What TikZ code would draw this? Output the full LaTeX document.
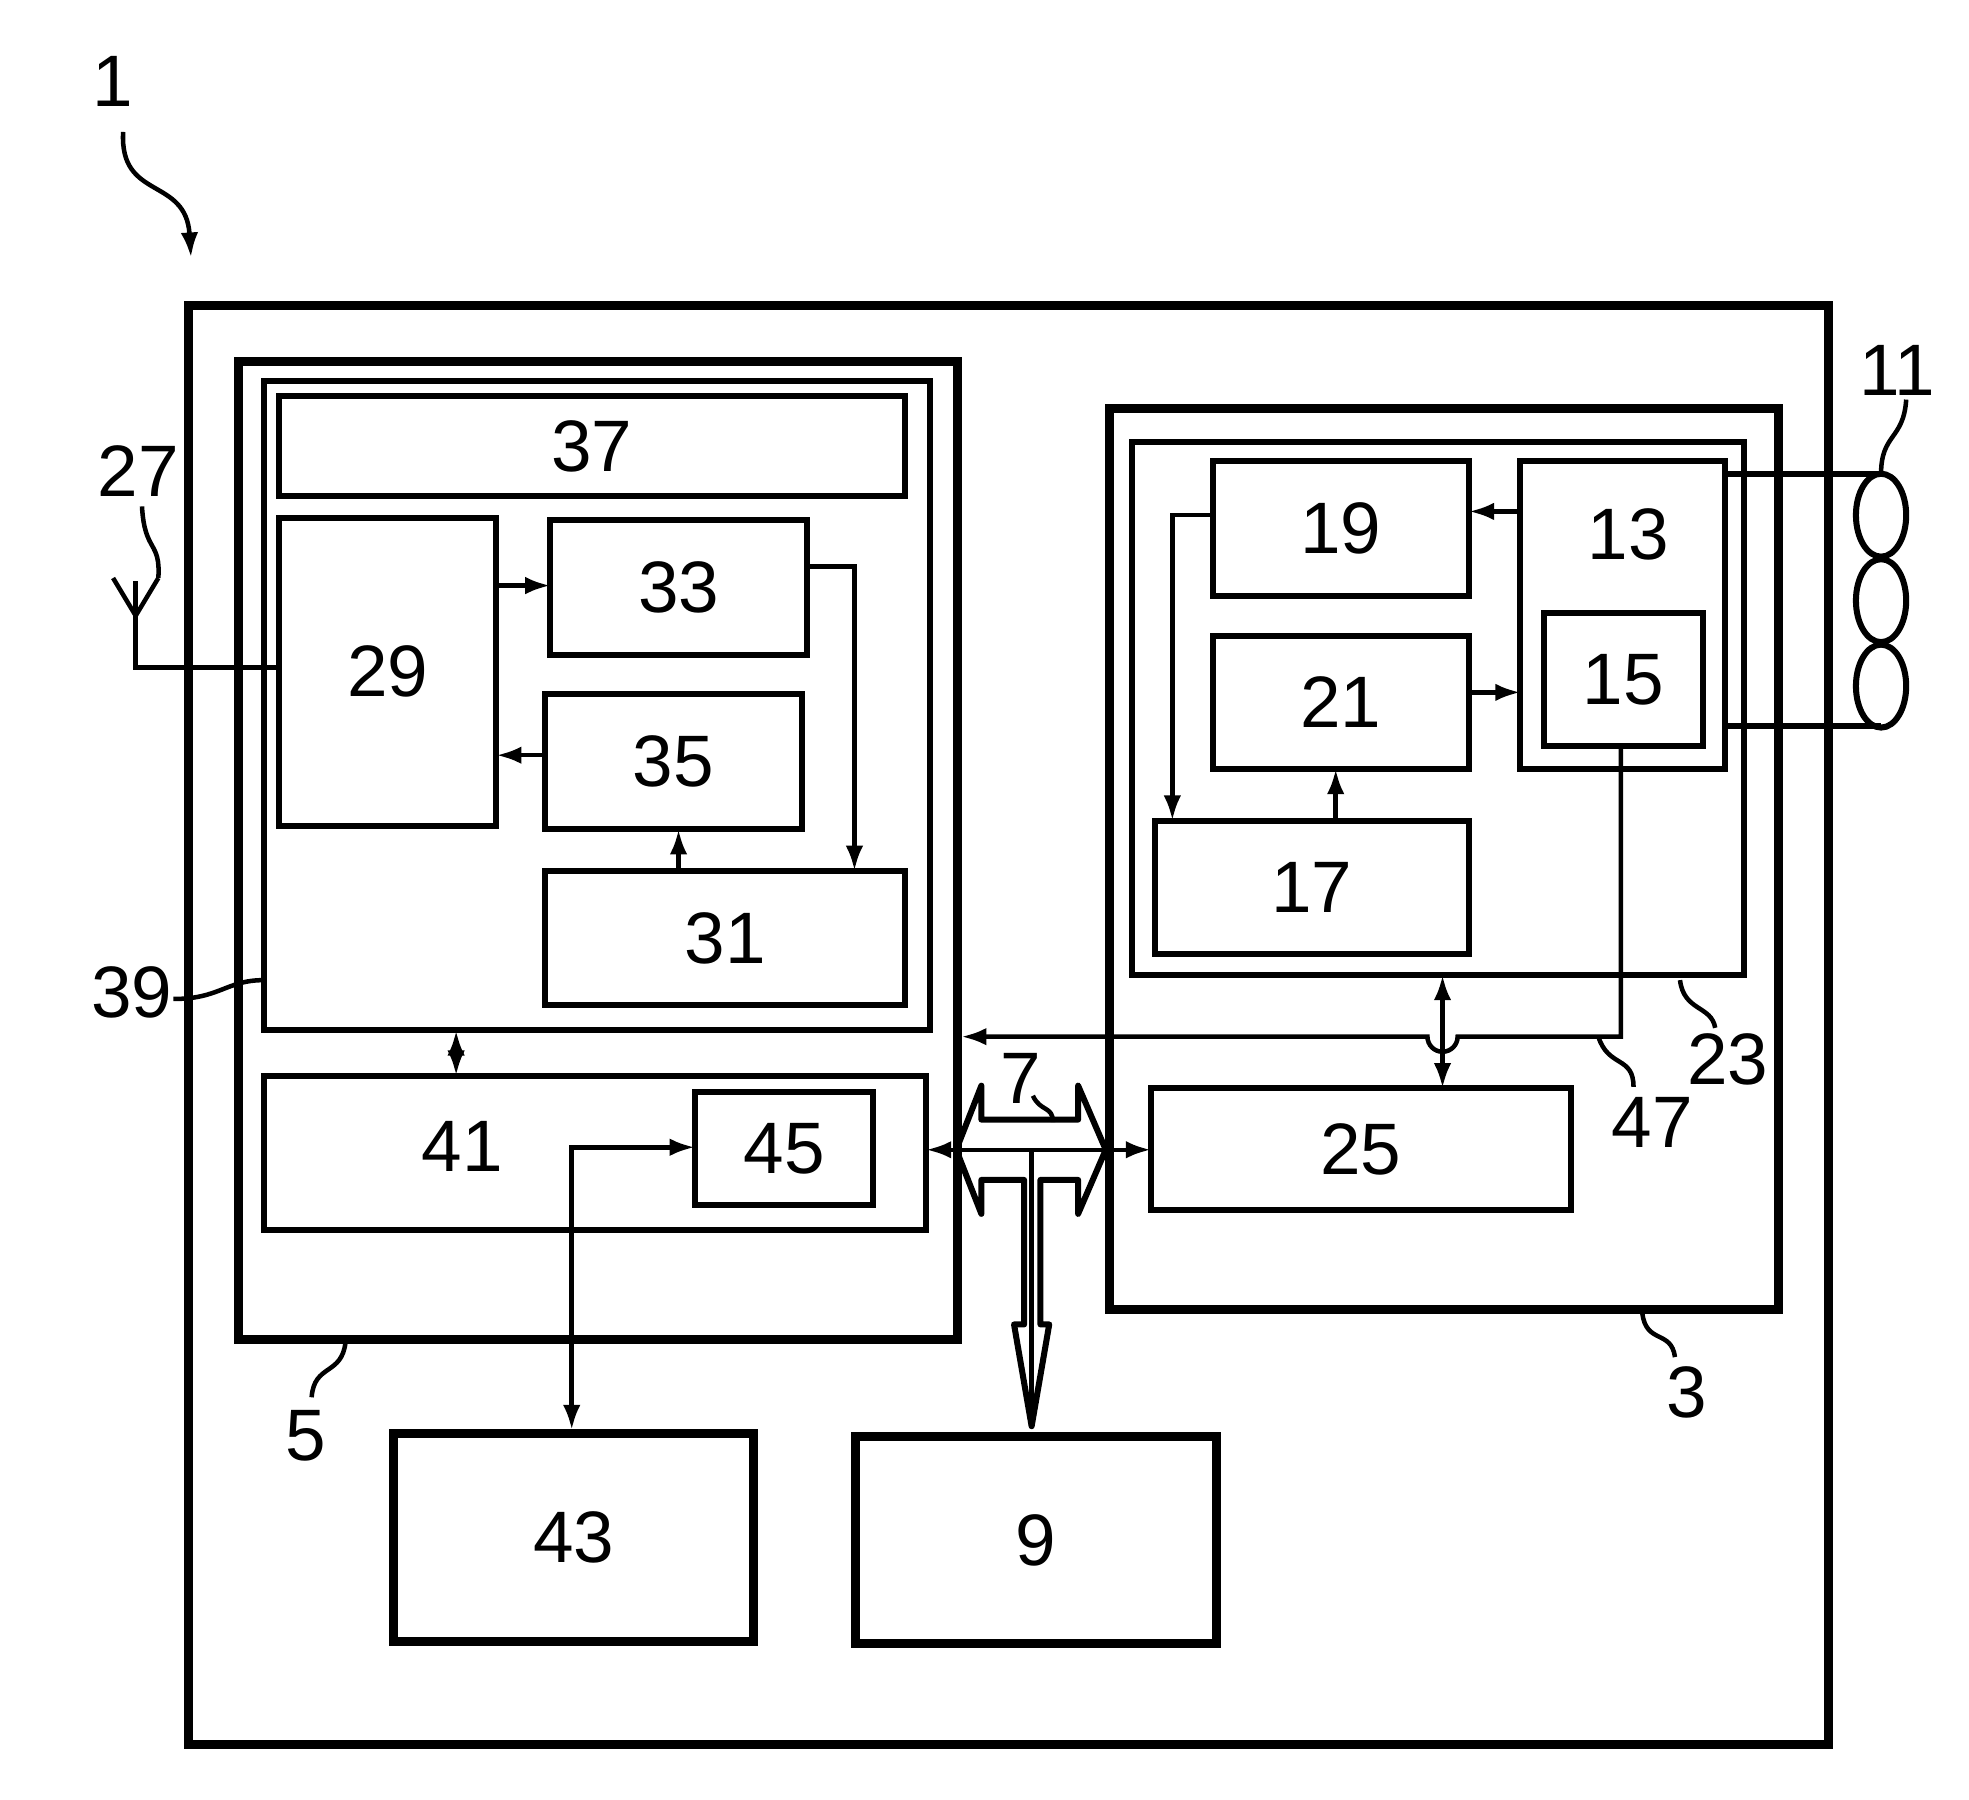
\documentclass[tikz,border=0pt]{standalone}
\usepackage{fontspec}
\setmainfont{Liberation Sans}
\usetikzlibrary{arrows.meta}
\begin{document}
\begin{tikzpicture}[x=0.5pt,y=-0.5pt,
  lab/.style={font=\fontsize{29}{30}\selectfont},
  thk/.style={line width=3.6pt},
  med/.style={line width=2.4pt},
  thn/.style={line width=1.8pt},
  arr/.style={thn,-{Latex[length=10pt,width=7pt]}},
  darr/.style={thn,{Latex[length=10pt,width=7pt]}-{Latex[length=10pt,width=7pt]}},
  lead/.style={line width=1.8pt}]
\useasboundingbox (0,0) rectangle (1567,1432);
\newcommand{\bx}[6]{\draw[#6] (#1,#2) rectangle (#3,#4); \node[lab] (n#5) at ({(#1+#3)/2},{(#2+#4)/2}) {#5};}
\draw[thk] (150,243) rectangle (1455,1388);
\draw[thk] (190,288) rectangle (762,1066);
\draw[med] (210,303) rectangle (740,820);
\bx{222}{315}{720}{395}{37}{med}
\bx{222}{412}{395}{657}{29}{med}
\bx{438}{414}{642}{521}{33}{med}
\bx{434}{552}{638}{660}{35}{med}
\bx{434}{693}{720}{800}{31}{med}
\draw[med] (210,856) rectangle (737,979); \node[lab] (n41) at (368,912) {41};
\bx{553}{869}{695}{959}{45}{med}
\draw[thk] (883,325) rectangle (1415,1042);
\draw[med] (901,352) rectangle (1388,776);
\bx{965}{367}{1169}{474}{19}{med}
\draw[med] (1210,367) rectangle (1373,612); \node[lab] (n13) at (1296,425) {13};
\bx{1229}{488}{1355}{594}{15}{med}
\bx{965}{506}{1169}{612}{21}{med}
\bx{919}{653}{1169}{759}{17}{med}
\bx{916}{866}{1250}{963}{25}{med}
\bx{313}{1141}{600}{1306}{43}{thk}
\bx{681}{1143}{968}{1308}{9}{thk}
% arrows left
\draw[arr] (395,466) -- (438,466);
\draw[arr] (642,451) -- (680,451) -- (680,693);
\draw[arr] (434,601) -- (395,601);
\draw[arr] (540,693) -- (540,660);
\draw[darr] (363,820) -- (363,856);
\draw[darr] (455,1138) -- (455,913) -- (553,913);
% arrows right
\draw[arr] (1210,407) -- (1169,407);
\draw[arr] (965,410) -- (933,410) -- (933,653);
\draw[arr] (1169,551) -- (1210,551);
\draw[arr] (1063,653) -- (1063,612);
\draw[darr] (1148,776) -- (1148,866);
\draw[arr] (1290,594) -- (1290,825) -- (1160,825) arc (0:180:12) -- (765,825);
\draw[darr] (737,915) -- (916,915);
% bus 7
\draw[med,line join=round] (761,915) -- (781,864) -- (781,891) -- (858,891) -- (858,864) -- (880,915) -- (858,966) -- (858,939) -- (828,939) -- (828,1054) -- (835,1054) -- (821,1135) -- (807,1054) -- (815,1054) -- (815,939) -- (781,939) -- (781,966) -- cycle;
\draw[thn] (821,915) -- (821,1135);
% antenna 27
\draw[thn] (222,531) -- (108,531) -- (108,462);
\draw[thn] (90,460) -- (108,490) -- (126,460);
% coils 11
\foreach \yy in {410,478,546} \draw[med] (1497,\yy) ellipse (20 and 33);
\draw[med] (1373,377) -- (1497,377);
\draw[med] (1373,578) -- (1497,578);
% labels
\node[lab] (l1) at (90,65) {1};
\draw[lead,-{Latex[length=10pt,width=7pt]}] (98,105) .. controls (95,160) and (148,140) .. (152,205);
\node[lab] (l27) at (110,375) {27};
\draw[lead] (113,403) .. controls (115,440) and (128,430) .. (126,460);
\node[lab] (l39) at (105,790) {39};
\draw[lead] (138,795) .. controls (175,795) and (180,780) .. (210,780);
\node[lab] (l11) at (1510,295) {11};
\draw[lead] (1517,318) .. controls (1515,350) and (1497,345) .. (1497,377);
\node[lab] (l23) at (1375,843) {23};
\draw[lead] (1337,780) .. controls (1340,805) and (1362,800) .. (1365,818);
\node[lab] (l47) at (1315,893) {47};
\draw[lead] (1272,825) .. controls (1280,850) and (1300,840) .. (1300,865);
\node[lab] (l3) at (1342,1108) {3};
\draw[lead] (1307,1045) .. controls (1310,1070) and (1330,1058) .. (1333,1080);
\node[lab] (l5) at (243,1143) {5};
\draw[lead] (275,1068) .. controls (272,1095) and (250,1085) .. (248,1112);
\node[lab] (l7) at (812,858) {7};
\draw[lead] (822,872) .. controls (828,885) and (838,880) .. (838,893);
\end{tikzpicture}
\end{document}
